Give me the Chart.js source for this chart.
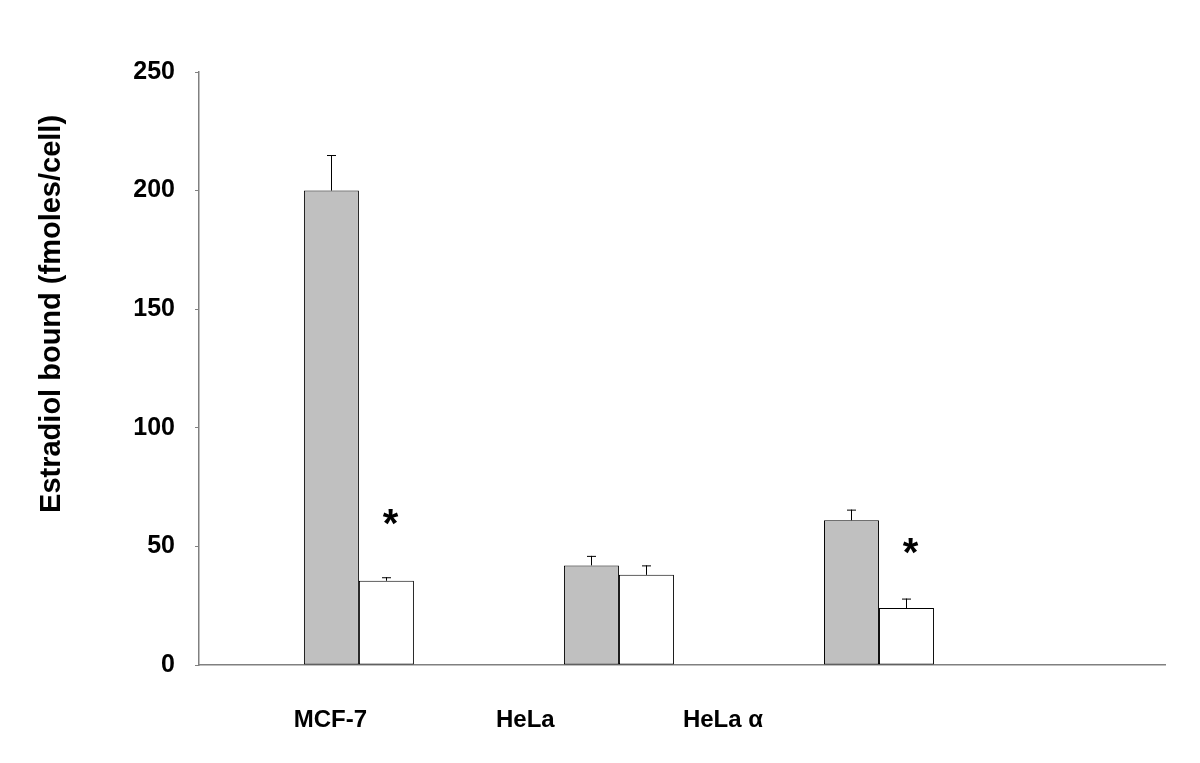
<!DOCTYPE html>
<html>
<head>
<meta charset="utf-8">
<script src="https://cdn.jsdelivr.net/npm/chart.js@4.4.0/dist/chart.umd.min.js"></script>
<style>
  html, body { margin: 0; padding: 0; background: #fff; }
  #wrap { width: 1200px; height: 763px; }
</style>
</head>
<body>
<div id="wrap"><canvas id="chart" width="1200" height="763"></canvas></div>
<script>
// Datos
const cellLines = ["MCF-7", "HeLa", "HeLa \u03b1"];
const grayValues = [200, 42, 61];
const grayErrors = [15, 4, 4.5];
const whiteValues = [35.5, 38, 24];
const whiteErrors = [1.5, 4, 4];
// asterisco de significancia sobre la barra blanca (null = sin marca)
const starLevels = [62.5, null, 50];
// posicion de las etiquetas en unidades del eje x
const labelPos = [0.89, 1.64, 2.40];
const yTicks = [0, 50, 100, 150, 200, 250];
const yTitle = "Estradiol bound (fmoles/cell)";

const FONT = "'Liberation Sans', Arial, sans-serif";
const AXIS = "#808080";

// Barras de error (solo hacia arriba), asteriscos y textos
const extrasPlugin = {
  id: "extras",
  afterDatasetsDraw(chart) {
    const ctx = chart.ctx;
    const yScale = chart.scales.y;
    const xScale = chart.scales.x;
    const errs = [grayErrors, whiteErrors];
    const vals = [grayValues, whiteValues];
    ctx.save();
    ctx.strokeStyle = "#000";
    ctx.lineWidth = 1;
    errs.forEach((errArr, di) => {
      const meta = chart.getDatasetMeta(di);
      meta.data.forEach((bar, j) => {
        const top = yScale.getPixelForValue(vals[di][j] + errArr[j]);
        const x = Math.round(bar.x) + 0.5;
        ctx.beginPath();
        ctx.moveTo(x, bar.y);
        ctx.lineTo(x, top);
        ctx.moveTo(x - 4.5, top + 0.5);
        ctx.lineTo(x + 4.5, top + 0.5);
        ctx.stroke();
      });
    });

    // asteriscos
    const whiteMeta = chart.getDatasetMeta(1);
    ctx.fillStyle = "#000";
    ctx.font = "bold 40px " + FONT;
    ctx.textAlign = "center";
    ctx.textBaseline = "middle";
    starLevels.forEach((lvl, j) => {
      if (lvl === null) return;
      const bar = whiteMeta.data[j];
      ctx.fillText("*", bar.x + 4, yScale.getPixelForValue(lvl) + 9);
    });

    // etiquetas de categorias
    ctx.font = "bold 24px " + FONT;
    ctx.textBaseline = "middle";
    cellLines.forEach((name, i) => {
      ctx.fillText(name, xScale.getPixelForValue(labelPos[i]), chart.chartArea.bottom + 55);
    });

    // titulo del eje y
    ctx.translate(52, yScale.getPixelForValue(148));
    ctx.rotate(-Math.PI / 2);
    ctx.font = "bold 29px " + FONT;
    ctx.fillText(yTitle, 0, 0);
    ctx.restore();
  }
};

function initChart() {
  const ctx = document.getElementById("chart");
  new Chart(ctx, {
    type: "bar",
    data: {
      datasets: [
        {
          label: "gray",
          data: grayValues.map((v, i) => ({ x: i + 1, y: v })),
          backgroundColor: "#c0c0c0",
          borderColor: "#000",
          borderWidth: 1,
          borderSkipped: false
        },
        {
          label: "white",
          data: whiteValues.map((v, i) => ({ x: i + 1, y: v })),
          backgroundColor: "#ffffff",
          borderColor: "#000",
          borderWidth: 1,
          borderSkipped: false
        }
      ]
    },
    options: {
      responsive: false,
      animation: false,
      layout: { padding: { left: 30, right: 35, top: 72, bottom: 95 } },
      datasets: { bar: { categoryPercentage: 0.423, barPercentage: 1 } },
      plugins: {
        legend: { display: false },
        tooltip: { enabled: false }
      },
      scales: {
        x: {
          type: "linear",
          position: "bottom",
          min: 0.385,
          max: 4.1,
          afterBuildTicks: (s) => { s.ticks = []; },
          afterFit: (s) => { s.height = 3; },
          ticks: { display: false },
          grid: { display: false },
          border: { display: true, color: AXIS, width: 1.5 }
        },
        y: {
          min: 0,
          max: 250,
          afterBuildTicks: (s) => { s.ticks = yTicks.map(v => ({ value: v })); },
          afterFit: (s) => { s.width = 169; },
          ticks: {
            padding: 20,
            color: "#000",
            font: { family: FONT, size: 25, weight: "bold" }
          },
          grid: { drawOnChartArea: false, drawTicks: true, tickLength: 4, color: AXIS },
          border: { display: true, color: AXIS, width: 1.5 },
          title: { display: false }
        }
      }
    },
    plugins: [extrasPlugin]
  });
}

document.addEventListener("DOMContentLoaded", initChart);
</script>
</body>
</html>
